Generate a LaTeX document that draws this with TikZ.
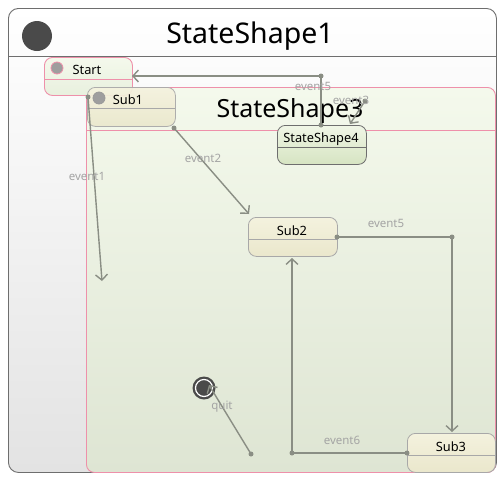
\documentclass[tikz,border=0pt]{standalone}
\usepackage{fontspec}
\setmainfont{Noto Sans}
\usetikzlibrary{arrows.meta,calc}
\definecolor{conn}{HTML}{8A8E84}
\definecolor{lbl}{HTML}{A4A4A4}
\definecolor{pinkb}{HTML}{EE90AA}
\definecolor{greyb}{HTML}{6E6E6E}
\definecolor{darkc}{HTML}{4A4A4A}
\definecolor{beigetop}{HTML}{F4F2DE}
\definecolor{beigebot}{HTML}{EAE7CC}
\tikzset{
  trans/.style={draw=conn, line width=1.4pt, -{Straight Barb[length=5.5pt,width=12pt,line width=1.4pt]}},
  dotc/.style={fill=conn, circle, inner sep=0pt, minimum size=5pt},
  evlabel/.style={text=lbl, font=\fontsize{11.5}{13}\selectfont, inner sep=0pt},
  boxtext/.style={font=\fontsize{12.8}{14}\selectfont, inner sep=0pt},
  substate/.style={draw=greyb!60, line width=0.8pt, rounded corners=8pt, inner sep=0pt, anchor=north west,
     top color=beigetop, bottom color=beigebot},
}
\begin{document}
\begin{tikzpicture}[x=1pt,y=-1pt]
\useasboundingbox (0,0) rectangle (504,483);
% outer state
\node[draw=greyb, line width=0.9pt, rounded corners=10pt, inner sep=0pt, anchor=north west,
  minimum width=488pt, minimum height=464pt, top color=white, bottom color=black!11] (ss1) at (8,8) {};
\draw[greyb, line width=0.8pt] (8,56) -- (496,56);
\node[circle, fill=darkc, minimum size=30pt, inner sep=0pt] (ss1init) at (37,36) {};
\node[font=\fontsize{28.5}{32}\selectfont, inner sep=0pt] (ss1title) at (250,36) {StateShape1};
% StateShape3
\node[draw=pinkb, line width=0.9pt, rounded corners=8pt, inner sep=0pt, anchor=north west,
  minimum width=409pt, minimum height=385pt,
  top color={rgb,255:red,244;green,249;blue,236}, bottom color={rgb,255:red,222;green,229;blue,211}] (ss3) at (86,87) {};
\draw[pinkb, line width=0.8pt] (86,130) -- (495,130);
\node[font=\fontsize{25}{29}\selectfont, inner sep=0pt] (ss3title) at (290,111) {StateShape3};
% Start
\node[draw=pinkb, line width=0.9pt, rounded corners=8pt, inner sep=0pt, anchor=north west,
  minimum width=88pt, minimum height=38pt,
  top color={rgb,255:red,244;green,249;blue,236}, bottom color={rgb,255:red,232;green,240;blue,222}] (start) at (44,57) {};
\draw[pinkb, line width=0.8pt] (44,79) -- (132,79);
\node[circle, draw=pinkb, fill=black!38, line width=0.8pt, minimum size=12pt, inner sep=0pt] (startinit) at (57,68) {};
\node[boxtext] (starttext) at (87,70) {Start};
% Sub1
\node[substate, minimum width=88pt, minimum height=39pt, opacity=0.92] (sub1) at (87,87) {};
\draw[greyb!60, line width=0.8pt] (87,108) -- (175,108);
\node[circle, draw=greyb!70, fill=black!38, line width=0.8pt, minimum size=12pt, inner sep=0pt] (sub1init) at (99,98) {};
\node[boxtext] (sub1text) at (128,100) {Sub1};
% StateShape4
\node[draw=greyb, line width=0.8pt, rounded corners=8pt, inner sep=0pt, anchor=north west,
  minimum width=89pt, minimum height=39pt,
  top color={rgb,255:red,240;green,246;blue,230}, bottom color={rgb,255:red,214;green,228;blue,194}] (ss4) at (277,125) {};
\draw[greyb, line width=0.8pt] (277,147) -- (366,147);
\node[boxtext] (ss4text) at (321,139) {StateShape4};
% Sub2
\node[substate, minimum width=89pt, minimum height=39pt] (sub2) at (248,217) {};
\draw[greyb!60, line width=0.8pt] (248,239) -- (337,239);
\node[boxtext] (sub2text) at (292,231) {Sub2};
% Sub3
\node[substate, minimum width=88pt, minimum height=39pt] (sub3) at (407,433) {};
\draw[greyb!60, line width=0.8pt] (407,455) -- (495,455);
\node[boxtext] (sub3text) at (451,447) {Sub3};
% final state
\node[circle, fill=darkc, minimum size=23pt, inner sep=0pt] (final) at (204,388) {};
\node[circle, draw=white, line width=1.2pt, minimum size=17pt, inner sep=0pt] at (204,388) {};
% coordinates
\coordinate (e5a) at (321,125);
\coordinate (e5b) at (321,76);
\coordinate (e5end) at (132,76);
\coordinate (e3a) at (365,101);
\coordinate (e3end) at (350,124);
\coordinate (e1a) at (88,97);
\coordinate (e1end) at (102,281);
\coordinate (e2a) at (174,128);
\coordinate (e2end) at (249,214);
\coordinate (f5a) at (337,237);
\coordinate (f5b) at (452,237);
\coordinate (f5end) at (452,432);
\coordinate (e6a) at (407,453);
\coordinate (e6b) at (292,453);
\coordinate (e6end) at (292,258);
\coordinate (qa) at (251,454);
\coordinate (qend) at (209,385);
% connectors
\draw[trans] (e5a) -- (e5b) -- (e5end);
\draw[trans] (e3a) -- (e3end);
\draw[trans] (e1a) -- (e1end);
\draw[trans] (e2a) -- (e2end);
\draw[trans] (f5a) -- (f5b) -- (f5end);
\draw[trans] (e6a) -- (e6b) -- (e6end);
\draw[trans] (qa) -- (qend);
\foreach \p in {e5a,e5b,e3a,e1a,e2a,f5a,f5b,e6a,e6b,qa} \node[dotc] at (\p) {};
% labels
\node[evlabel] at (313,86) {event5};
\node[evlabel] at (351,100) {event3};
\node[evlabel] at (87,176) {event1};
\node[evlabel] at (203,158) {event2};
\node[evlabel] at (386,223) {event5};
\node[evlabel] at (342,440) {event6};
\node[evlabel] at (222,407) {quit};
\end{tikzpicture}
\end{document}
